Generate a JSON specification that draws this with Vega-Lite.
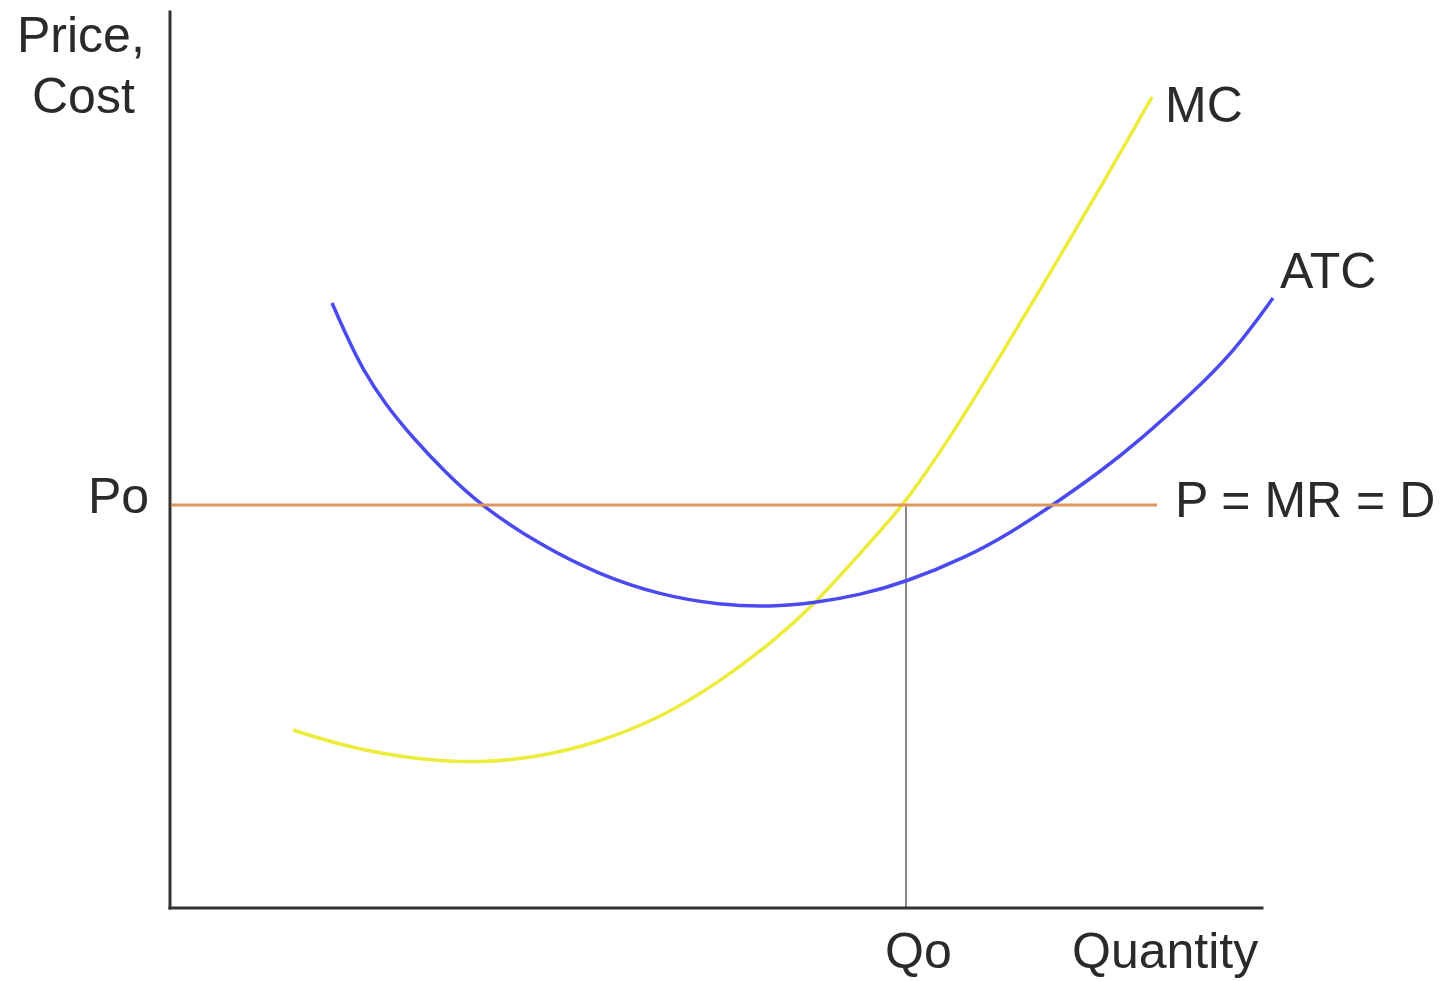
{
  "$schema": "https://vega.github.io/schema/vega-lite/v6.json",
  "width": 1450,
  "height": 981,
  "autosize": {"type": "fit", "contains": "padding"},
  "padding": 0,
  "background": "white",
  "config": {"view": {"stroke": null}},
  "datasets": {
    "curves": [
      {"series": "MC", "q": 12.3, "p": 17.8},
      {"series": "MC", "q": 18.0, "p": 16.0},
      {"series": "MC", "q": 25.0, "p": 14.8},
      {"series": "MC", "q": 31.0, "p": 14.5},
      {"series": "MC", "q": 37.0, "p": 15.1},
      {"series": "MC", "q": 43.0, "p": 16.6},
      {"series": "MC", "q": 49.0, "p": 19.0},
      {"series": "MC", "q": 55.0, "p": 22.6},
      {"series": "MC", "q": 61.0, "p": 27.2},
      {"series": "MC", "q": 64.5, "p": 30.5},
      {"series": "MC", "q": 68.0, "p": 34.3},
      {"series": "MC", "q": 71.0, "p": 37.7},
      {"series": "MC", "q": 73.5, "p": 40.5},
      {"series": "MC", "q": 78.0, "p": 47.0},
      {"series": "MC", "q": 82.3, "p": 54.0},
      {"series": "MC", "q": 87.0, "p": 61.8},
      {"series": "MC", "q": 89.3, "p": 65.7},
      {"series": "MC", "q": 93.0, "p": 72.0},
      {"series": "MC", "q": 96.0, "p": 77.2},
      {"series": "MC", "q": 98.2, "p": 81.1},
      {"series": "ATC", "q": 16.2, "p": 60.5},
      {"series": "ATC", "q": 17.7, "p": 57.1},
      {"series": "ATC", "q": 19.3, "p": 53.8},
      {"series": "ATC", "q": 21.5, "p": 50.4},
      {"series": "ATC", "q": 24.3, "p": 47.0},
      {"series": "ATC", "q": 27.5, "p": 43.6},
      {"series": "ATC", "q": 31.0, "p": 40.3},
      {"series": "ATC", "q": 37.0, "p": 36.3},
      {"series": "ATC", "q": 43.0, "p": 33.3},
      {"series": "ATC", "q": 49.0, "p": 31.3},
      {"series": "ATC", "q": 55.0, "p": 30.3},
      {"series": "ATC", "q": 60.0, "p": 30.1},
      {"series": "ATC", "q": 64.5, "p": 30.5},
      {"series": "ATC", "q": 69.0, "p": 31.3},
      {"series": "ATC", "q": 73.6, "p": 32.6},
      {"series": "ATC", "q": 79.7, "p": 35.1},
      {"series": "ATC", "q": 84.0, "p": 37.5},
      {"series": "ATC", "q": 88.0, "p": 40.1},
      {"series": "ATC", "q": 93.0, "p": 43.6},
      {"series": "ATC", "q": 97.0, "p": 46.8},
      {"series": "ATC", "q": 102.0, "p": 51.3},
      {"series": "ATC", "q": 106.3, "p": 55.5},
      {"series": "ATC", "q": 110.3, "p": 61.0}
    ],
    "labels": [
      {"text": "Price,", "q": -15.3, "p": 85.6},
      {"text": "Cost", "q": -13.8, "p": 79.5},
      {"text": "Po", "q": -8.2, "p": 39.5},
      {"text": "Qo", "q": 71.5, "p": -6.0},
      {"text": "Quantity", "q": 90.2, "p": -6.0},
      {"text": "MC", "q": 99.5, "p": 78.6},
      {"text": "ATC", "q": 111.0, "p": 62.0},
      {"text": "P = MR = D", "q": 100.5, "p": 39.1}
    ]
  },
  "layer": [
    {
      "data": {"values": [{"q": 73.6, "p": 0, "q2": 73.6, "p2": 40.3}]},
      "mark": {"type": "rule", "color": "#8a8a8a", "strokeWidth": 2},
      "encoding": {
        "x": {"field": "q", "type": "quantitative", "scale": {"domain": [-17, 128], "nice": false, "zero": false}, "axis": null},
        "y": {"field": "p", "type": "quantitative", "scale": {"domain": [-7.3, 90.8], "nice": false, "zero": false}, "axis": null},
        "x2": {"field": "q2"},
        "y2": {"field": "p2"}
      }
    },
    {
      "data": {"name": "curves"},
      "mark": {"type": "line", "interpolate": "basis", "strokeWidth": 3.5},
      "encoding": {
        "x": {"field": "q", "type": "quantitative"},
        "y": {"field": "p", "type": "quantitative"},
        "color": {"field": "series", "type": "nominal", "scale": {"domain": ["MC", "ATC"], "range": ["#ecec3c", "#4a4af0"]}, "legend": null},
        "order": {"field": "q", "type": "quantitative"}
      }
    },
    {
      "data": {"values": [{"q": 0.2, "p": 40.3, "q2": 98.7, "p2": 40.3}]},
      "mark": {"type": "rule", "color": "#e0955a", "strokeWidth": 3},
      "encoding": {
        "x": {"field": "q", "type": "quantitative"},
        "y": {"field": "p", "type": "quantitative"},
        "x2": {"field": "q2"},
        "y2": {"field": "p2"}
      }
    },
    {
      "data": {"values": [{"q": 0, "p": 0, "q2": 0, "p2": 89.6}, {"q": 0, "p": 0, "q2": 109.2, "p2": 0}]},
      "mark": {"type": "rule", "color": "#333333", "strokeWidth": 3, "strokeCap": "square"},
      "encoding": {
        "x": {"field": "q", "type": "quantitative"},
        "y": {"field": "p", "type": "quantitative"},
        "x2": {"field": "q2"},
        "y2": {"field": "p2"}
      }
    },
    {
      "data": {"name": "labels"},
      "mark": {"type": "text", "align": "left", "baseline": "alphabetic", "font": "Liberation Sans", "fontSize": 50, "color": "#2a2a2a"},
      "encoding": {
        "x": {"field": "q", "type": "quantitative"},
        "y": {"field": "p", "type": "quantitative"},
        "text": {"field": "text"}
      }
    }
  ]
}
